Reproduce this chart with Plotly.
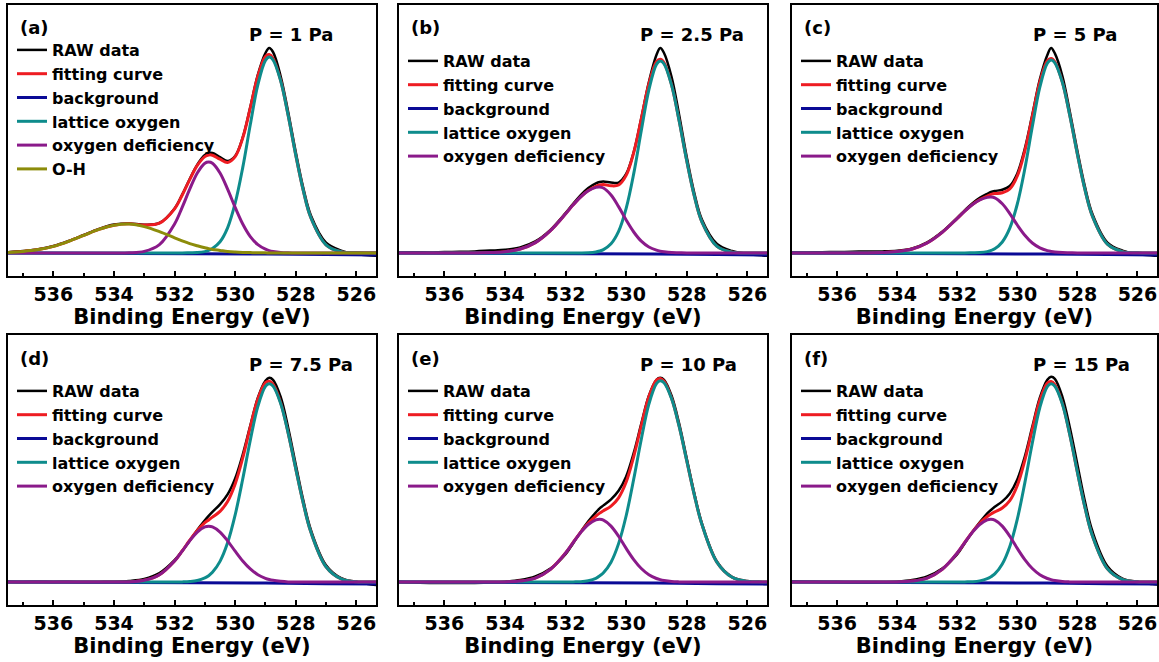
import plotly.graph_objects as go

# ---------------- data ----------------
ENERGY = [537.5, 537.0, 536.5, 536.0, 535.5, 535.0, 534.5, 534.0, 533.5, 533.0, 532.5,
          532.0, 531.75, 531.5, 531.25, 531.0, 530.875, 530.75, 530.5, 530.25, 530.0,
          529.75, 529.5, 529.25, 529.0, 528.875, 528.75, 528.5, 528.25, 528.0, 527.75,
          527.5, 527.0, 526.5, 526.0, 525.5, 525.2]

BG_X = [537.5, 531.0, 529.0, 527.0, 525.2]
BG_Y = [0.0, -0.002, -0.005, -0.008, -0.010]

PANEL_LABELS = ["(a)", "(b)", "(c)", "(d)", "(e)", "(f)"]
PRESSURES = ["P = 1 Pa", "P = 2.5 Pa", "P = 5 Pa", "P = 7.5 Pa", "P = 10 Pa", "P = 15 Pa"]

# (a) P = 1 Pa
RAW_A = [0.004, 0.010, 0.019, 0.035, 0.060, 0.090, 0.120, 0.142, 0.148, 0.141, 0.150,
         0.223, 0.292, 0.370, 0.442, 0.490, 0.500, 0.500, 0.480, 0.460, 0.485,
         0.578, 0.730, 0.892, 1.000, 1.025, 1.005, 0.885, 0.705, 0.505, 0.325,
         0.188, 0.052, 0.012, -0.006, -0.012, -0.014]
FIT_A = [0.003, 0.008, 0.017, 0.033, 0.058, 0.088, 0.118, 0.139, 0.146, 0.140, 0.149,
         0.221, 0.289, 0.367, 0.438, 0.482, 0.490, 0.489, 0.469, 0.453, 0.482,
         0.575, 0.726, 0.885, 0.983, 0.992, 0.974, 0.865, 0.689, 0.490, 0.312,
         0.176, 0.041, 0.006, 0.001, 0.000, 0.000]
LAT_A = [0.0, 0.0, 0.0, 0.0, 0.0, 0.0, 0.0, 0.0, 0.0, 0.0, 0.0,
         0.0, 0.000, 0.001, 0.002, 0.007, 0.013, 0.022, 0.056, 0.126, 0.249,
         0.427, 0.642, 0.842, 0.963, 0.980, 0.966, 0.862, 0.688, 0.490, 0.312,
         0.176, 0.041, 0.006, 0.001, 0.000, 0.000]
DEF_A = [0.0, 0.0, 0.0, 0.0, 0.0, 0.0, 0.0, 0.0, 0.001, 0.008, 0.042,
         0.145, 0.228, 0.319, 0.400, 0.449, 0.455, 0.449, 0.400, 0.319, 0.228,
         0.145, 0.082, 0.042, 0.019, 0.012, 0.008, 0.003, 0.001, 0.0, 0.0,
         0.0, 0.0, 0.0, 0.0, 0.0, 0.0]
OH_A = [0.003, 0.008, 0.017, 0.033, 0.058, 0.088, 0.118, 0.139, 0.145, 0.132, 0.107,
        0.076, 0.061, 0.047, 0.036, 0.026, 0.022, 0.018, 0.013, 0.008, 0.005,
        0.003, 0.002, 0.001, 0.001, 0.0, 0.0, 0.0, 0.0, 0.0, 0.0,
        0.0, 0.0, 0.0, 0.0, 0.0, 0.0]

# (b) P = 2.5 Pa
RAW_B = [0.003, 0.004, 0.003, 0.005, 0.006, 0.008, 0.012, 0.016, 0.028, 0.058, 0.116,
         0.200, 0.246, 0.290, 0.325, 0.348, 0.355, 0.357, 0.352, 0.352, 0.395,
         0.505, 0.675, 0.855, 0.990, 1.025, 1.000, 0.880, 0.690, 0.480, 0.300,
         0.168, 0.045, 0.010, -0.005, -0.012, -0.014]
FIT_B = [0.0, 0.0, 0.0, 0.0, 0.0, 0.0, 0.002, 0.006, 0.020, 0.052, 0.112,
         0.196, 0.241, 0.281, 0.312, 0.333, 0.340, 0.342, 0.336, 0.340, 0.388,
         0.502, 0.671, 0.846, 0.957, 0.969, 0.952, 0.841, 0.661, 0.461, 0.285,
         0.156, 0.033, 0.004, 0.0, 0.0, 0.0]
LAT_B = [0.0, 0.0, 0.0, 0.0, 0.0, 0.0, 0.0, 0.0, 0.0, 0.0, 0.0,
         0.0, 0.0, 0.0, 0.001, 0.005, 0.010, 0.017, 0.046, 0.108, 0.223,
         0.397, 0.612, 0.816, 0.943, 0.960, 0.946, 0.839, 0.660, 0.461, 0.285,
         0.156, 0.033, 0.004, 0.0, 0.0, 0.0]
DEF_B = [0.0, 0.0, 0.0, 0.0, 0.0, 0.0, 0.002, 0.006, 0.020, 0.052, 0.112,
         0.196, 0.241, 0.281, 0.311, 0.328, 0.330, 0.325, 0.290, 0.232, 0.165,
         0.105, 0.059, 0.030, 0.014, 0.009, 0.006, 0.002, 0.001, 0.0, 0.0,
         0.0, 0.0, 0.0, 0.0, 0.0, 0.0]

# (c) P = 5 Pa
RAW_C = [0.002, 0.003, 0.004, 0.005, 0.006, 0.008, 0.008, 0.011, 0.023, 0.053, 0.106,
         0.176, 0.213, 0.248, 0.276, 0.296, 0.305, 0.310, 0.316, 0.335, 0.398,
         0.522, 0.692, 0.868, 0.990, 1.025, 0.998, 0.885, 0.705, 0.510, 0.332,
         0.195, 0.052, 0.012, -0.005, -0.012, -0.014]
FIT_C = [0.0, 0.0, 0.0, 0.0, 0.0, 0.0, 0.002, 0.007, 0.020, 0.050, 0.103,
         0.173, 0.209, 0.242, 0.267, 0.285, 0.293, 0.297, 0.301, 0.321, 0.385,
         0.510, 0.682, 0.855, 0.961, 0.973, 0.956, 0.855, 0.686, 0.494, 0.318,
         0.184, 0.044, 0.007, 0.001, 0.0, 0.0]
LAT_C = [0.0, 0.0, 0.0, 0.0, 0.0, 0.0, 0.0, 0.0, 0.0, 0.0, 0.0,
         0.0, 0.0, 0.001, 0.002, 0.007, 0.013, 0.021, 0.055, 0.124, 0.245,
         0.421, 0.632, 0.829, 0.949, 0.965, 0.951, 0.853, 0.685, 0.494, 0.318,
         0.184, 0.044, 0.007, 0.001, 0.0, 0.0]
DEF_C = [0.0, 0.0, 0.0, 0.0, 0.0, 0.0, 0.002, 0.007, 0.020, 0.050, 0.103,
         0.173, 0.209, 0.241, 0.265, 0.278, 0.280, 0.276, 0.246, 0.197, 0.140,
         0.089, 0.050, 0.026, 0.012, 0.008, 0.005, 0.002, 0.001, 0.0, 0.0,
         0.0, 0.0, 0.0, 0.0, 0.0, 0.0]

# (d) P = 7.5 Pa
RAW_D = [0.002, 0.001, 0.002, 0.001, 0.002, 0.000, 0.001, 0.002, 0.006, 0.016, 0.045,
         0.110, 0.156, 0.208, 0.262, 0.310, 0.332, 0.352, 0.390, 0.440, 0.520,
         0.640, 0.785, 0.925, 1.010, 1.025, 1.015, 0.930, 0.775, 0.590, 0.410,
         0.262, 0.085, 0.020, 0.000, -0.012, -0.016]
FIT_D = [0.0, 0.0, 0.0, 0.0, 0.0, 0.0, 0.0, 0.0, 0.001, 0.009, 0.037,
         0.106, 0.156, 0.210, 0.259, 0.298, 0.312, 0.326, 0.355, 0.404, 0.492,
         0.623, 0.778, 0.919, 1.001, 1.008, 0.993, 0.902, 0.749, 0.569, 0.395,
         0.251, 0.077, 0.016, 0.002, 0.0, 0.0]
LAT_D = [0.0, 0.0, 0.0, 0.0, 0.0, 0.0, 0.0, 0.0, 0.0, 0.0, 0.0,
         0.0, 0.001, 0.003, 0.008, 0.021, 0.032, 0.049, 0.104, 0.197, 0.337,
         0.517, 0.712, 0.882, 0.982, 0.995, 0.984, 0.898, 0.748, 0.569, 0.395,
         0.251, 0.077, 0.016, 0.002, 0.0, 0.0]
DEF_D = [0.0, 0.0, 0.0, 0.0, 0.0, 0.0, 0.0, 0.0, 0.001, 0.009, 0.037,
         0.106, 0.155, 0.207, 0.251, 0.277, 0.280, 0.277, 0.251, 0.207, 0.155,
         0.106, 0.066, 0.037, 0.019, 0.013, 0.009, 0.004, 0.001, 0.0, 0.0,
         0.0, 0.0, 0.0, 0.0, 0.0, 0.0]

# (e) P = 10 Pa
RAW_E = [0.000, -0.002, -0.004, -0.005, -0.005, -0.004, -0.002, 0.002, 0.010, 0.028, 0.068,
         0.140, 0.195, 0.252, 0.305, 0.350, 0.370, 0.385, 0.415, 0.458, 0.530,
         0.648, 0.795, 0.935, 1.015, 1.025, 1.015, 0.935, 0.795, 0.620, 0.445,
         0.295, 0.102, 0.025, 0.002, -0.008, -0.012]
FIT_E = [0.0, 0.0, 0.0, 0.0, 0.0, 0.0, 0.0, 0.001, 0.005, 0.020, 0.064,
         0.146, 0.199, 0.251, 0.296, 0.331, 0.346, 0.358, 0.381, 0.423, 0.502,
         0.630, 0.785, 0.930, 1.014, 1.022, 1.008, 0.923, 0.782, 0.609, 0.438,
         0.290, 0.099, 0.024, 0.004, 0.001, 0.0]
LAT_E = [0.0, 0.0, 0.0, 0.0, 0.0, 0.0, 0.0, 0.0, 0.0, 0.0, 0.0,
         0.0, 0.001, 0.002, 0.007, 0.019, 0.031, 0.047, 0.100, 0.193, 0.333,
         0.517, 0.717, 0.893, 0.996, 1.010, 1.000, 0.920, 0.781, 0.609, 0.438,
         0.290, 0.099, 0.024, 0.004, 0.001, 0.0]
DEF_E = [0.0, 0.0, 0.0, 0.0, 0.0, 0.0, 0.0, 0.001, 0.005, 0.020, 0.064,
         0.146, 0.198, 0.249, 0.289, 0.312, 0.315, 0.311, 0.281, 0.230, 0.169,
         0.113, 0.068, 0.037, 0.018, 0.012, 0.008, 0.003, 0.001, 0.0, 0.0,
         0.0, 0.0, 0.0, 0.0, 0.0, 0.0]

# (f) P = 15 Pa
RAW_F = [0.003, 0.002, 0.001, 0.000, -0.002, -0.003, -0.001, 0.002, 0.010, 0.028, 0.068,
         0.140, 0.195, 0.250, 0.300, 0.345, 0.362, 0.378, 0.405, 0.445, 0.515,
         0.630, 0.780, 0.925, 1.015, 1.030, 1.020, 0.930, 0.775, 0.590, 0.405,
         0.255, 0.080, 0.018, 0.000, -0.010, -0.015]
FIT_F = [0.0, 0.0, 0.0, 0.0, 0.0, 0.0, 0.0, 0.001, 0.005, 0.020, 0.064,
         0.146, 0.199, 0.251, 0.295, 0.329, 0.342, 0.352, 0.372, 0.409, 0.485,
         0.611, 0.766, 0.913, 0.999, 1.007, 0.991, 0.897, 0.738, 0.552, 0.376,
         0.233, 0.067, 0.013, 0.002, 0.0, 0.0]
LAT_F = [0.0, 0.0, 0.0, 0.0, 0.0, 0.0, 0.0, 0.0, 0.0, 0.0, 0.0,
         0.0, 0.001, 0.002, 0.006, 0.017, 0.027, 0.041, 0.091, 0.179, 0.316,
         0.498, 0.698, 0.876, 0.981, 0.995, 0.983, 0.894, 0.737, 0.552, 0.376,
         0.233, 0.067, 0.013, 0.002, 0.0, 0.0]
DEF_F = [0.0, 0.0, 0.0, 0.0, 0.0, 0.0, 0.0, 0.001, 0.005, 0.020, 0.064,
         0.146, 0.198, 0.249, 0.289, 0.312, 0.315, 0.311, 0.281, 0.230, 0.169,
         0.113, 0.068, 0.037, 0.018, 0.012, 0.008, 0.003, 0.001, 0.0, 0.0,
         0.0, 0.0, 0.0, 0.0, 0.0, 0.0]

X_TICKS = [536, 534, 532, 530, 528, 526]
X_TICK_LABELS = ["536", "534", "532", "530", "528", "526"]
X_MINOR = [537, 535, 533, 531, 529, 527]
X_RANGE = [537.5, 525.35]
Y_RANGE = [-0.115, 1.24]

# ---------------- styling / layout ----------------
W, H = 1159, 662
FONT = "DejaVu Sans"
COLS = [(8, 376), (399, 767), (792, 1157)]
ROWS = [(5, 276), (335, 605)]
C_RAW, C_FIT, C_BG = "#000000", "#EE1C22", "#0A0A96"
C_LAT, C_DEF, C_OH = "#0E8C8C", "#8A1A8A", "#8C8C0A"

panels = [
    dict(raw=RAW_A, fit=FIT_A, lat=LAT_A, dfc=DEF_A, oh=OH_A),
    dict(raw=RAW_B, fit=FIT_B, lat=LAT_B, dfc=DEF_B, oh=None),
    dict(raw=RAW_C, fit=FIT_C, lat=LAT_C, dfc=DEF_C, oh=None),
    dict(raw=RAW_D, fit=FIT_D, lat=LAT_D, dfc=DEF_D, oh=None),
    dict(raw=RAW_E, fit=FIT_E, lat=LAT_E, dfc=DEF_E, oh=None),
    dict(raw=RAW_F, fit=FIT_F, lat=LAT_F, dfc=DEF_F, oh=None),
]

fig = go.Figure()
layout = dict(width=W, height=H, margin=dict(l=0, r=0, t=0, b=0),
              paper_bgcolor="white", plot_bgcolor="white", showlegend=True,
              font=dict(family=FONT, color="black"))
annotations = []

for i, p in enumerate(panels):
    r, c = divmod(i, 3)
    x0, x1 = COLS[c]
    y0, y1 = ROWS[r]
    sfx = "" if i == 0 else str(i + 1)
    xa, ya = "x" + sfx, "y" + sfx
    lg = "legend" + sfx

    series = [("RAW data", ENERGY, p["raw"], C_RAW, 2.5, "spline"),
              ("fitting curve", ENERGY, p["fit"], C_FIT, 3.0, "spline"),
              ("background", BG_X, BG_Y, C_BG, 3.0, "linear"),
              ("lattice oxygen", ENERGY, p["lat"], C_LAT, 3.0, "spline"),
              ("oxygen deficiency", ENERGY, p["dfc"], C_DEF, 3.0, "spline")]
    if p["oh"] is not None:
        series.append(("O-H", ENERGY, p["oh"], C_OH, 3.0, "spline"))
    for name, xs, ys, col, lw, shape in series:
        fig.add_trace(go.Scatter(x=xs, y=ys, mode="lines", name=name,
                                 line=dict(color=col, width=lw, shape=shape),
                                 xaxis=xa, yaxis=ya, legend=lg, hoverinfo="skip"))

    layout["xaxis" + sfx] = dict(
        domain=[x0 / W, x1 / W], anchor=ya, range=X_RANGE, autorange=False,
        tickmode="array", tickvals=X_TICKS,
        ticktext=["<b>" + t + "</b>" for t in X_TICK_LABELS],
        ticks="inside", ticklen=5, tickwidth=1.5, tickcolor="black",
        minor=dict(tickmode="array", tickvals=X_MINOR, ticks="inside", ticklen=3,
                   tickwidth=1.5, tickcolor="black", showgrid=False),
        showline=True, linecolor="black", linewidth=1.8, mirror=True,
        showgrid=False, zeroline=False,
        tickfont=dict(family=FONT, size=19, color="black"),
        title=dict(text="<b>Binding Energy (eV)</b>", standoff=0,
                   font=dict(family=FONT, size=21, color="black")))
    layout["yaxis" + sfx] = dict(
        domain=[1 - y1 / H, 1 - y0 / H], anchor=xa, range=Y_RANGE, autorange=False,
        showticklabels=False, ticks="", showline=True, linecolor="black",
        linewidth=1.8, mirror=True, showgrid=False, zeroline=False)

    leg_top = (y0 + 28) if i == 0 else (y0 + 39)
    layout[lg] = dict(x=(x0 + 4) / W, y=1 - leg_top / H, xanchor="left", yanchor="top",
                      bgcolor="rgba(0,0,0,0)", borderwidth=0, itemwidth=30,
                      tracegroupgap=0, traceorder="normal", itemclick=False,
                      itemdoubleclick=False,
                      font=dict(family=FONT, size=16, color="black", weight="bold"))

    annotations.append(dict(text="<b>" + PANEL_LABELS[i] + "</b>", xref="paper", yref="paper",
                            x=(x0 + 10) / W, y=1 - (y0 + 23) / H, xanchor="left",
                            yanchor="middle", showarrow=False,
                            font=dict(family=FONT, size=18, color="black")))
    annotations.append(dict(text="<b>" + PRESSURES[i] + "</b>", xref="paper", yref="paper",
                            x=(x0 + 239) / W, y=1 - (y0 + 29) / H, xanchor="left",
                            yanchor="middle", showarrow=False,
                            font=dict(family=FONT, size=18, color="black")))

layout["annotations"] = annotations
fig.update_layout(**layout)
fig.write_html("out.html")
